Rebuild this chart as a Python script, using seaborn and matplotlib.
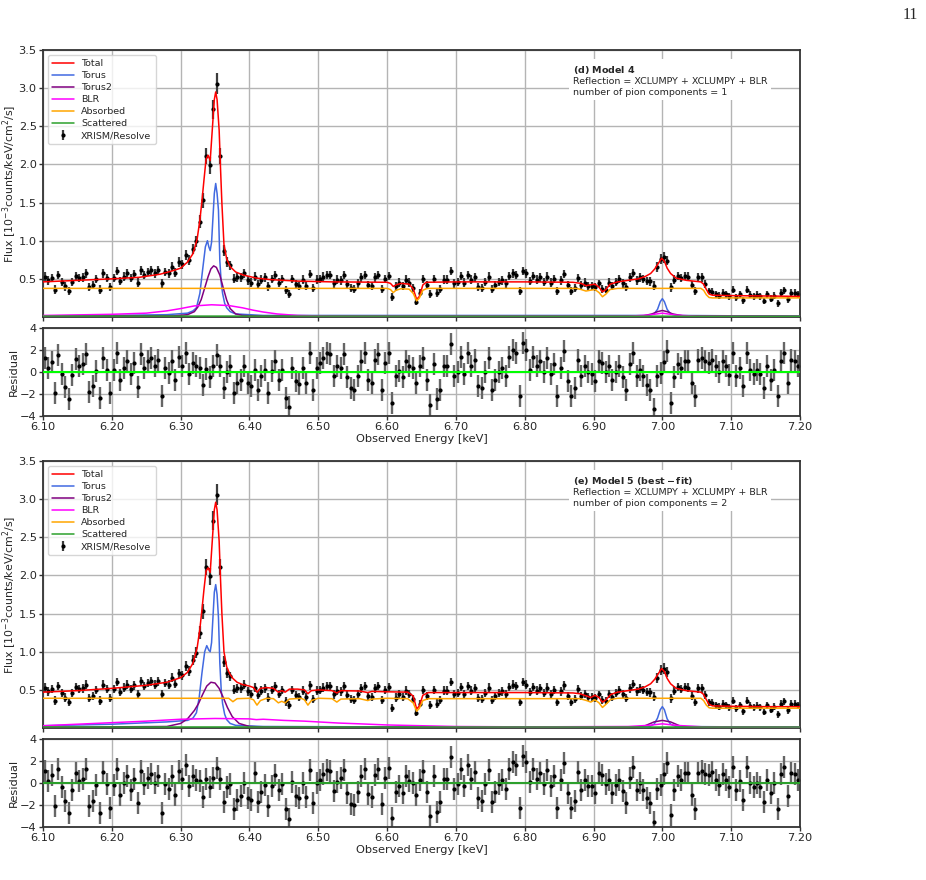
import numpy as np
import matplotlib
matplotlib.use("Agg")
import matplotlib.pyplot as plt
from matplotlib.ticker import FormatStrFormatter
import seaborn as sns

# ---- observed spectrum (shared by both panels), 5 eV bins from 6.10 keV ----
energy = np.round(6.1025 + 0.005 * np.arange(220), 4)

flux = [
    0.53, 0.48, 0.51, 0.36, 0.55, 0.46, 0.40, 0.34, 0.46, 0.54, 0.51, 0.52, 0.57, 0.39, 0.42, 0.50, 0.36, 0.57, 0.51, 0.39,
    0.51, 0.60, 0.47, 0.53, 0.57, 0.51, 0.56, 0.45, 0.61, 0.55, 0.59, 0.61, 0.57, 0.61, 0.44, 0.59, 0.57, 0.66, 0.58, 0.72,
    0.69, 0.81, 0.75, 0.89, 0.99, 1.25, 1.53, 2.11, 1.99, 2.72, 3.06, 2.11, 0.87, 0.72, 0.68, 0.50, 0.52, 0.52, 0.57, 0.48,
    0.45, 0.53, 0.43, 0.49, 0.52, 0.40, 0.50, 0.55, 0.45, 0.50, 0.35, 0.30, 0.50, 0.43, 0.41, 0.49, 0.41, 0.56, 0.38, 0.49,
    0.50, 0.53, 0.55, 0.55, 0.44, 0.49, 0.48, 0.55, 0.43, 0.38, 0.37, 0.44, 0.52, 0.55, 0.42, 0.41, 0.52, 0.55, 0.37, 0.50,
    0.54, 0.26, 0.40, 0.45, 0.41, 0.49, 0.45, 0.38, 0.20, 0.32, 0.50, 0.42, 0.30, 0.50, 0.32, 0.37, 0.49, 0.49, 0.60, 0.44,
    0.46, 0.54, 0.45, 0.55, 0.49, 0.52, 0.39, 0.38, 0.46, 0.53, 0.37, 0.42, 0.46, 0.48, 0.44, 0.54, 0.57, 0.55, 0.34, 0.60,
    0.57, 0.47, 0.54, 0.49, 0.52, 0.46, 0.53, 0.45, 0.50, 0.34, 0.48, 0.56, 0.42, 0.34, 0.38, 0.51, 0.42, 0.45, 0.41, 0.41,
    0.39, 0.44, 0.37, 0.36, 0.45, 0.41, 0.46, 0.50, 0.44, 0.39, 0.52, 0.58, 0.48, 0.52, 0.50, 0.47, 0.47, 0.41, 0.65, 0.76,
    0.78, 0.74, 0.39, 0.49, 0.54, 0.51, 0.54, 0.53, 0.42, 0.34, 0.52, 0.52, 0.43, 0.34, 0.33, 0.30, 0.28, 0.32, 0.30, 0.27,
    0.36, 0.26, 0.30, 0.22, 0.36, 0.29, 0.27, 0.29, 0.27, 0.21, 0.30, 0.24, 0.28, 0.18, 0.32, 0.35, 0.23, 0.32, 0.32, 0.30,
]

flux_err = [
    0.055, 0.055, 0.055, 0.055, 0.055, 0.055, 0.055, 0.055, 0.055, 0.055, 0.055, 0.055, 0.055, 0.055, 0.055, 0.055, 0.055, 0.055, 0.055, 0.055,
    0.055, 0.055, 0.055, 0.055, 0.055, 0.055, 0.055, 0.055, 0.055, 0.055, 0.055, 0.055, 0.055, 0.055, 0.055, 0.055, 0.055, 0.060, 0.060, 0.060,
    0.060, 0.065, 0.065, 0.070, 0.075, 0.085, 0.100, 0.110, 0.110, 0.130, 0.140, 0.110, 0.075, 0.065, 0.060, 0.060, 0.060, 0.055, 0.055, 0.055,
    0.055, 0.055, 0.055, 0.055, 0.055, 0.055, 0.055, 0.055, 0.055, 0.055, 0.055, 0.055, 0.055, 0.055, 0.055, 0.055, 0.055, 0.055, 0.055, 0.055,
    0.055, 0.055, 0.055, 0.055, 0.055, 0.055, 0.055, 0.055, 0.055, 0.055, 0.055, 0.055, 0.055, 0.055, 0.055, 0.055, 0.055, 0.055, 0.055, 0.055,
    0.055, 0.055, 0.055, 0.055, 0.055, 0.055, 0.055, 0.050, 0.045, 0.045, 0.055, 0.055, 0.055, 0.055, 0.055, 0.055, 0.055, 0.055, 0.055, 0.055,
    0.055, 0.055, 0.055, 0.055, 0.055, 0.055, 0.055, 0.055, 0.055, 0.055, 0.055, 0.055, 0.055, 0.055, 0.055, 0.055, 0.055, 0.055, 0.055, 0.055,
    0.055, 0.055, 0.055, 0.055, 0.055, 0.055, 0.055, 0.055, 0.055, 0.055, 0.055, 0.055, 0.055, 0.055, 0.055, 0.055, 0.055, 0.055, 0.055, 0.055,
    0.055, 0.050, 0.050, 0.050, 0.055, 0.055, 0.055, 0.055, 0.055, 0.055, 0.055, 0.055, 0.055, 0.055, 0.055, 0.055, 0.060, 0.060, 0.065, 0.070,
    0.070, 0.065, 0.060, 0.055, 0.055, 0.055, 0.055, 0.055, 0.055, 0.055, 0.055, 0.055, 0.050, 0.045, 0.045, 0.045, 0.045, 0.045, 0.045, 0.045,
    0.045, 0.045, 0.045, 0.045, 0.045, 0.045, 0.045, 0.045, 0.045, 0.045, 0.045, 0.045, 0.045, 0.045, 0.045, 0.045, 0.045, 0.045, 0.045, 0.045,
]

resid_m4 = [
    1.3, 0.4, 0.9, -1.9, 1.5, -0.2, -1.4, -2.5, -0.3, 1.2, 0.5, 0.7, 1.6, -1.8, -1.3, 0.1, -2.4, 1.3, 0.2, -1.9,
    0.2, 1.7, -0.7, 0.4, 1.0, -0.2, 0.8, -1.4, 1.6, 0.4, 1.0, 1.3, 0.5, 1.1, -2.2, 0.4, -0.1, 1.0, -0.7, 1.4,
    0.5, 1.7, -0.2, 0.8, 0.5, 0.4, -1.2, 0.3, -0.5, 0.5, 1.5, 0.5, -1.5, 0.0, 0.5, -1.9, -1.0, -0.7, 0.5, -1.0,
    -1.3, 0.2, -1.6, -0.4, 0.2, -1.9, 0.1, 1.0, -0.7, 0.2, -2.4, -3.2, 0.4, -0.8, -1.1, 0.4, -1.0, 1.7, -1.6, 0.4,
    0.8, 1.3, 1.7, 1.6, -0.4, 0.5, 0.4, 1.6, -0.5, -1.5, -1.6, -0.4, 1.0, 1.7, -0.7, -1.0, 1.1, 1.6, -1.6, 0.8,
    1.7, -2.8, -0.4, 0.1, -0.5, 1.0, 0.5, 0.4, -1.0, 0.5, 1.3, -0.7, -3.0, 0.7, -2.5, -1.6, 0.5, 0.5, 2.5, -0.4,
    0.0, 1.4, -0.2, 1.7, 0.5, 1.1, -1.3, -1.5, 0.0, 1.3, -1.6, -0.7, 0.0, 0.4, -0.4, 1.4, 2.0, 1.7, -2.2, 2.6,
    2.0, 0.2, 1.4, 0.5, 1.0, 0.0, 1.3, -0.2, 0.7, -2.2, 0.4, 1.9, -0.8, -2.2, -1.5, 1.1, -0.4, 0.5, 0.0, -0.2,
    -0.8, 1.0, 0.8, 0.0, 0.5, -0.7, 0.0, 0.5, -0.5, -1.6, 0.7, 1.7, -0.4, 0.2, -0.4, -1.2, -1.6, -3.4, -0.4, -0.1,
    0.9, 1.9, -2.8, -0.5, 0.7, 0.4, 1.0, 1.0, -1.0, -2.2, 1.1, 1.3, 1.0, 0.8, 1.1, 0.5, 0.0, 1.0, 0.5, -0.3,
    1.7, -0.4, 0.4, -1.3, 1.7, 0.2, -0.2, 0.2, -0.2, -1.5, 0.5, -0.7, 0.2, -2.2, 1.0, 1.7, -1.0, 1.1, 1.0, 0.5,
]

resid_m5 = [
    1.1, 0.2, 0.7, -2.1, 1.3, -0.4, -1.6, -2.7, -0.6, 0.9, 0.2, 0.4, 1.3, -2.1, -1.6, -0.2, -2.7, 1.0, -0.1, -2.3,
    -0.2, 1.3, -1.1, 0.0, 0.6, -0.6, 0.4, -1.8, 1.1, -0.1, 0.5, 0.8, 0.0, 0.6, -2.7, -0.1, -0.5, 0.6, -1.1, 1.1,
    0.4, 1.6, -0.3, 0.6, 0.3, 0.2, -1.3, 0.4, -0.4, 0.5, 1.4, 0.4, -1.7, -0.4, -0.1, -2.4, -1.5, -1.2, 0.0, -1.4,
    -1.5, 0.9, -1.7, -0.8, -0.2, -2.1, -0.3, 0.7, -0.6, -0.1, -2.4, -3.3, 0.1, -1.2, -1.4, 0.0, -1.3, 1.2, -1.8, 0.0,
    0.3, 0.8, 1.2, 1.1, -0.7, 0.1, 0.5, 1.2, -0.9, -1.9, -2.0, -0.8, 0.6, 1.3, -1.0, -1.3, 0.7, 1.3, -1.9, 0.5,
    1.4, -3.2, -0.8, -0.3, -0.9, 0.6, 0.2, 0.0, -1.1, 0.3, 1.1, -0.8, -3.0, 0.6, -2.6, -1.7, 0.4, 0.4, 2.4, -0.5,
    -0.1, 1.3, -0.3, 1.6, 0.4, 1.0, -1.4, -1.6, -0.1, 1.2, -1.7, -0.8, -0.1, 0.3, -0.5, 1.3, 1.9, 1.6, -2.3, 2.5,
    1.9, 0.1, 1.3, 0.4, 0.9, -0.1, 1.2, -0.3, 0.6, -2.3, 0.3, 1.8, -0.9, -2.3, -1.6, 1.0, -0.6, 0.3, -0.3, -0.3,
    -0.9, 0.9, 0.7, -0.1, 0.3, -0.9, -0.2, 0.3, -0.7, -1.8, 0.5, 1.5, -0.6, 0.0, -0.6, -1.4, -1.8, -3.5, -0.5, -0.2,
    0.8, 1.8, -2.9, -0.6, 0.6, 0.3, 0.9, 0.9, -1.1, -2.4, 0.9, 1.1, 0.8, 0.7, 1.0, 0.3, -0.2, 0.8, 0.3, -0.4,
    1.5, -0.6, 0.2, -1.5, 1.5, 0.0, -0.4, 0.0, -0.4, -1.7, 0.3, -0.9, 0.0, -2.4, 0.8, 1.5, -1.2, 0.9, 0.8, 0.3,
]

# ---- model 4 components ----
m4_total_e = [6.10, 6.15, 6.20, 6.24, 6.27, 6.29, 6.30, 6.31, 6.318, 6.324, 6.328, 6.331, 6.334, 6.337, 6.340,
              6.343, 6.346, 6.349, 6.351, 6.353, 6.356, 6.358, 6.360, 6.363, 6.367, 6.372, 6.380, 6.391, 6.41,
              6.43, 6.47, 6.52, 6.60, 6.605, 6.609, 6.613, 6.62, 6.632, 6.638, 6.643, 6.647, 6.652, 6.657, 6.70,
              6.80, 6.87, 6.882, 6.889, 6.895, 6.902, 6.908, 6.913, 6.918, 6.924, 6.935, 6.95, 6.965, 6.975,
              6.983, 6.989, 6.994, 6.999, 7.003, 7.007, 7.012, 7.02, 7.035, 7.056, 7.060, 7.064, 7.068, 7.073,
              7.10, 7.15, 7.20]
m4_total_f = [0.46, 0.48, 0.50, 0.52, 0.56, 0.61, 0.64, 0.72, 0.83, 1.02, 1.27, 1.52, 1.80, 2.07, 2.12,
              2.05, 2.45, 2.85, 2.95, 2.85, 2.45, 1.95, 1.49, 0.95, 0.76, 0.66, 0.59, 0.55, 0.51,
              0.49, 0.47, 0.46, 0.455, 0.44, 0.40, 0.42, 0.44, 0.43, 0.37, 0.23, 0.27, 0.42, 0.455, 0.46,
              0.46, 0.455, 0.44, 0.41, 0.42, 0.43, 0.39, 0.33, 0.36, 0.43, 0.46, 0.48, 0.50, 0.53,
              0.57, 0.63, 0.70, 0.77, 0.73, 0.64, 0.57, 0.51, 0.48, 0.46, 0.43, 0.36, 0.30, 0.285,
              0.28, 0.275, 0.27]

m4_torus_e = [6.10, 6.20, 6.28, 6.31, 6.318, 6.323, 6.328, 6.332, 6.336, 6.339, 6.341, 6.343, 6.345, 6.347,
              6.349, 6.351, 6.353, 6.355, 6.357, 6.359, 6.361, 6.364, 6.367, 6.372, 6.38, 6.42, 6.98, 6.988,
              6.993, 6.997, 7.000, 7.003, 7.007, 7.012, 7.02, 7.20]
m4_torus_f = [0.015, 0.02, 0.03, 0.05, 0.08, 0.12, 0.31, 0.62, 0.92, 1.00, 0.92, 0.87, 0.98, 1.30,
              1.62, 1.75, 1.62, 1.40, 0.74, 0.45, 0.31, 0.18, 0.12, 0.07, 0.04, 0.02, 0.02, 0.04,
              0.10, 0.20, 0.24, 0.20, 0.10, 0.04, 0.02, 0.01]

m4_torus2_e = [6.10, 6.29, 6.31, 6.32, 6.325, 6.33, 6.335, 6.34, 6.344, 6.348, 6.352, 6.357, 6.362, 6.367,
               6.372, 6.38, 6.39, 6.42, 6.97, 6.985, 6.993, 7.000, 7.007, 7.015, 7.03, 7.20]
m4_torus2_f = [0.01, 0.015, 0.03, 0.07, 0.13, 0.23, 0.38, 0.53, 0.63, 0.67, 0.65, 0.55, 0.38, 0.22,
               0.11, 0.04, 0.02, 0.01, 0.01, 0.04, 0.07, 0.085, 0.07, 0.04, 0.015, 0.01]

m4_blr_e = [6.10, 6.20, 6.25, 6.28, 6.30, 6.32, 6.345, 6.37, 6.39, 6.405, 6.42, 6.44, 6.47, 6.52, 6.95,
            6.98, 7.00, 7.02, 7.05, 7.20]
m4_blr_f = [0.02, 0.035, 0.05, 0.08, 0.11, 0.145, 0.16, 0.15, 0.12, 0.09, 0.065, 0.04, 0.02, 0.01, 0.01,
            0.025, 0.05, 0.025, 0.01, 0.005]

m4_abs_e = [6.10, 6.60, 6.605, 6.609, 6.613, 6.62, 6.632, 6.638, 6.643, 6.647, 6.652, 6.657, 6.66, 6.875,
            6.882, 6.889, 6.895, 6.902, 6.908, 6.913, 6.918, 6.924, 6.935, 7.056, 7.060, 7.064, 7.068, 7.073,
            7.20]
m4_abs_f = [0.375, 0.375, 0.36, 0.32, 0.35, 0.37, 0.365, 0.31, 0.21, 0.25, 0.35, 0.37, 0.375, 0.375,
            0.36, 0.34, 0.35, 0.36, 0.32, 0.265, 0.30, 0.36, 0.375, 0.375, 0.35, 0.29, 0.255, 0.25,
            0.25]

m4_scat_e = [6.10, 7.20]
m4_scat_f = [0.012, 0.010]

# ---- model 5 components ----
m5_total_e = [6.10, 6.15, 6.20, 6.25, 6.28, 6.30, 6.31, 6.318, 6.324, 6.328, 6.331, 6.334, 6.337, 6.340,
              6.343, 6.346, 6.349, 6.351, 6.353, 6.356, 6.358, 6.360, 6.363, 6.367, 6.372, 6.376, 6.382,
              6.39, 6.40, 6.406, 6.411, 6.416, 6.425, 6.435, 6.442, 6.447, 6.452, 6.458, 6.47, 6.48,
              6.485, 6.49, 6.50, 6.52, 6.527, 6.533, 6.56, 6.572, 6.578, 6.60, 6.63, 6.638, 6.643, 6.647,
              6.652, 6.66, 6.70, 6.80, 6.87, 6.88, 6.89, 6.896, 6.902, 6.908, 6.913, 6.918, 6.925, 6.935,
              6.95, 6.965, 6.975, 6.983, 6.989, 6.994, 6.999, 7.003, 7.007, 7.012, 7.02, 7.035, 7.056,
              7.060, 7.064, 7.068, 7.073, 7.10, 7.15, 7.20]
m5_total_f = [0.47, 0.49, 0.52, 0.56, 0.60, 0.66, 0.73, 0.85, 1.05, 1.30, 1.55, 1.82, 2.06, 2.10,
              2.04, 2.45, 2.86, 2.96, 2.86, 2.45, 1.95, 1.50, 1.00, 0.80, 0.70, 0.65, 0.60,
              0.57, 0.55, 0.53, 0.47, 0.52, 0.53, 0.52, 0.47, 0.49, 0.47, 0.51, 0.51, 0.50,
              0.45, 0.49, 0.50, 0.49, 0.46, 0.49, 0.485, 0.465, 0.48, 0.475, 0.47, 0.42, 0.25, 0.29,
              0.43, 0.465, 0.465, 0.465, 0.46, 0.45, 0.42, 0.40, 0.43, 0.40, 0.34, 0.37, 0.44, 0.47,
              0.49, 0.51, 0.54, 0.58, 0.64, 0.71, 0.78, 0.74, 0.65, 0.58, 0.52, 0.49, 0.47,
              0.44, 0.37, 0.31, 0.29, 0.285, 0.28, 0.28]

m5_torus_e = [6.10, 6.20, 6.28, 6.31, 6.318, 6.323, 6.327, 6.331, 6.335, 6.338, 6.341, 6.343, 6.345, 6.347,
              6.349, 6.351, 6.353, 6.355, 6.357, 6.359, 6.361, 6.364, 6.367, 6.372, 6.38, 6.42, 6.60, 6.98,
              6.988, 6.993, 6.997, 7.000, 7.003, 7.007, 7.012, 7.02, 7.20]
m5_torus_f = [0.03, 0.05, 0.08, 0.10, 0.13, 0.20, 0.40, 0.72, 1.00, 1.08, 1.02, 1.00, 1.12, 1.45,
              1.78, 1.88, 1.75, 1.45, 0.85, 0.50, 0.32, 0.18, 0.11, 0.06, 0.035, 0.02, 0.015, 0.015,
              0.05, 0.13, 0.24, 0.28, 0.24, 0.12, 0.05, 0.02, 0.01]

m5_torus2_e = [6.10, 6.28, 6.30, 6.31, 6.32, 6.326, 6.332, 6.338, 6.344, 6.35, 6.356, 6.362, 6.368, 6.375,
               6.385, 6.40, 6.43, 6.96, 6.975, 6.988, 7.000, 7.012, 7.025, 7.04, 7.20]
m5_torus2_f = [0.01, 0.02, 0.06, 0.12, 0.23, 0.32, 0.44, 0.55, 0.60, 0.59, 0.52, 0.40, 0.27, 0.15,
               0.06, 0.02, 0.01, 0.01, 0.03, 0.08, 0.10, 0.08, 0.03, 0.01, 0.01]

m5_blr_e = [6.10, 6.20, 6.25, 6.30, 6.35, 6.40, 6.41, 6.42, 6.45, 6.48, 6.50, 6.53, 6.56, 6.60, 6.65,
            6.70, 6.80, 6.95, 6.98, 7.00, 7.02, 7.06, 7.20]
m5_blr_f = [0.03, 0.07, 0.09, 0.115, 0.125, 0.12, 0.11, 0.115, 0.10, 0.09, 0.08, 0.065, 0.055, 0.04, 0.03,
            0.02, 0.015, 0.02, 0.035, 0.055, 0.035, 0.015, 0.01]

m5_abs_e = [6.10, 6.37, 6.376, 6.382, 6.40, 6.406, 6.411, 6.416, 6.425, 6.435, 6.442, 6.447, 6.452, 6.458,
            6.475, 6.48, 6.485, 6.49, 6.50, 6.52, 6.527, 6.533, 6.56, 6.572, 6.578, 6.60, 6.63, 6.638,
            6.643, 6.647, 6.652, 6.66, 6.88, 6.89, 6.896, 6.902, 6.908, 6.913, 6.918, 6.925, 6.935, 7.056,
            7.060, 7.064, 7.068, 7.073, 7.20]
m5_abs_f = [0.39, 0.39, 0.345, 0.385, 0.39, 0.37, 0.30, 0.36, 0.39, 0.385, 0.33, 0.35, 0.33, 0.38,
            0.39, 0.37, 0.30, 0.36, 0.39, 0.385, 0.34, 0.38, 0.385, 0.36, 0.38, 0.39, 0.385, 0.33,
            0.22, 0.26, 0.36, 0.385, 0.385, 0.36, 0.34, 0.37, 0.33, 0.27, 0.31, 0.375, 0.39, 0.39,
            0.36, 0.30, 0.265, 0.26, 0.26]

m5_scat_e = [6.10, 7.20]
m5_scat_f = [0.014, 0.013]

xticks = [6.10, 6.20, 6.30, 6.40, 6.50, 6.60, 6.70, 6.80, 6.90, 7.00, 7.10, 7.20]
flux_ticks = [0.5, 1.0, 1.5, 2.0, 2.5, 3.0, 3.5]
resid_ticks = [-4, -2, 0, 2, 4]

comp_names = ["Total", "Torus", "Torus2", "BLR", "Absorbed", "Scattered"]
comp_colors = ["red", "royalblue", "purple", "magenta", "orange", "#2ca02c"]

model4 = [(m4_total_e, m4_total_f), (m4_torus_e, m4_torus_f), (m4_torus2_e, m4_torus2_f),
          (m4_blr_e, m4_blr_f), (m4_abs_e, m4_abs_f), (m4_scat_e, m4_scat_f)]
model5 = [(m5_total_e, m5_total_f), (m5_torus_e, m5_torus_f), (m5_torus2_e, m5_torus2_f),
          (m5_blr_e, m5_blr_f), (m5_abs_e, m5_abs_f), (m5_scat_e, m5_scat_f)]

sns.set_style("ticks")
plt.rcParams['font.family'] = ['DejaVu Sans']
plt.rcParams['mathtext.default'] = 'regular'

FS = 8.2
GRID = '#b4b4b4'


def style_axes(ax):
    ax.set_xlim(6.10, 7.20)
    ax.set_xticks(xticks)
    ax.xaxis.set_major_formatter(FormatStrFormatter('%.2f'))
    ax.grid(True, color=GRID, linewidth=1.0)
    ax.set_axisbelow(True)
    for sp in ax.spines.values():
        sp.set_linewidth(1.3)
        sp.set_color('#333333')
    ax.tick_params(labelsize=FS, length=3.0, width=1.0, color='#333333', pad=1.5)


def draw_panel(ax, rax, model, resid, note, zero_color):
    # data
    eb = ax.errorbar(energy, flux, yerr=flux_err, fmt='o', ms=2.0, color='black',
                     ecolor='#3c3c3c', elinewidth=1.6, capsize=0, zorder=2, label='XRISM/Resolve')
    handles = []
    for (e, f), name, c in zip(model, comp_names, comp_colors):
        sns.lineplot(x=e, y=f, ax=ax, color=c, linewidth=1.1, zorder=3)
        handles.append(plt.Line2D([], [], color=c, linewidth=1.1, label=name))
    handles.append(eb)
    style_axes(ax)
    ax.set_ylim(0, 3.5)
    ax.set_yticks(flux_ticks)
    ax.tick_params(labelbottom=False)
    ax.set_ylabel(r"Flux [10$^{-3}$counts/keV/cm$^2$/s]", fontsize=7.9)
    ax.yaxis.set_label_coords(-0.031, 0.5)
    ax.legend(handles=handles, loc='upper left', fontsize=6.8, framealpha=0.8,
              borderpad=0.45, labelspacing=0.32, handlelength=2.3)
    ax.text(0.700, 0.948, note, transform=ax.transAxes, ha='left', va='top', fontsize=6.8,
            linespacing=1.2, bbox=dict(facecolor='white', edgecolor='none', pad=2.5), zorder=5)

    # residuals
    rax.errorbar(energy, resid, yerr=1.0, fmt='o', ms=2.0, color='black',
                 ecolor='#666666', elinewidth=1.7, capsize=0, zorder=2)
    rax.axhline(0, color=zero_color, linewidth=1.5, zorder=3)
    style_axes(rax)
    rax.set_ylim(-4, 4)
    rax.set_yticks(resid_ticks)
    rax.set_ylabel("Residual", fontsize=FS)
    rax.yaxis.set_label_coords(-0.032, 0.5)
    rax.set_xlabel("Observed Energy [keV]", fontsize=FS, labelpad=1)


fig = plt.figure(figsize=(9.26, 8.8), dpi=100)
ax1 = fig.add_axes([0.0464, 0.6398, 0.8175, 0.3034])
rx1 = fig.add_axes([0.0464, 0.5273, 0.8175, 0.1000])
ax2 = fig.add_axes([0.0464, 0.1727, 0.8175, 0.3034])
rx2 = fig.add_axes([0.0464, 0.0602, 0.8175, 0.1000])

draw_panel(ax1, rx1, model4, resid_m4,
           r"$\bf{(d)\ Model\ 4}$" + "\nReflection = XCLUMPY + XCLUMPY + BLR\nnumber of pion components = 1",
           '#00ff00')
draw_panel(ax2, rx2, model5, resid_m5,
           r"$\bf{(e)\ Model\ 5\ (best-fit)}$" + "\nReflection = XCLUMPY + XCLUMPY + BLR\nnumber of pion components = 2",
           '#2ca02c')

fig.text(0.991, 0.992, "11", ha='right', va='top', fontsize=11.5, family='Liberation Serif')

fig.savefig("out.png", dpi=100)
